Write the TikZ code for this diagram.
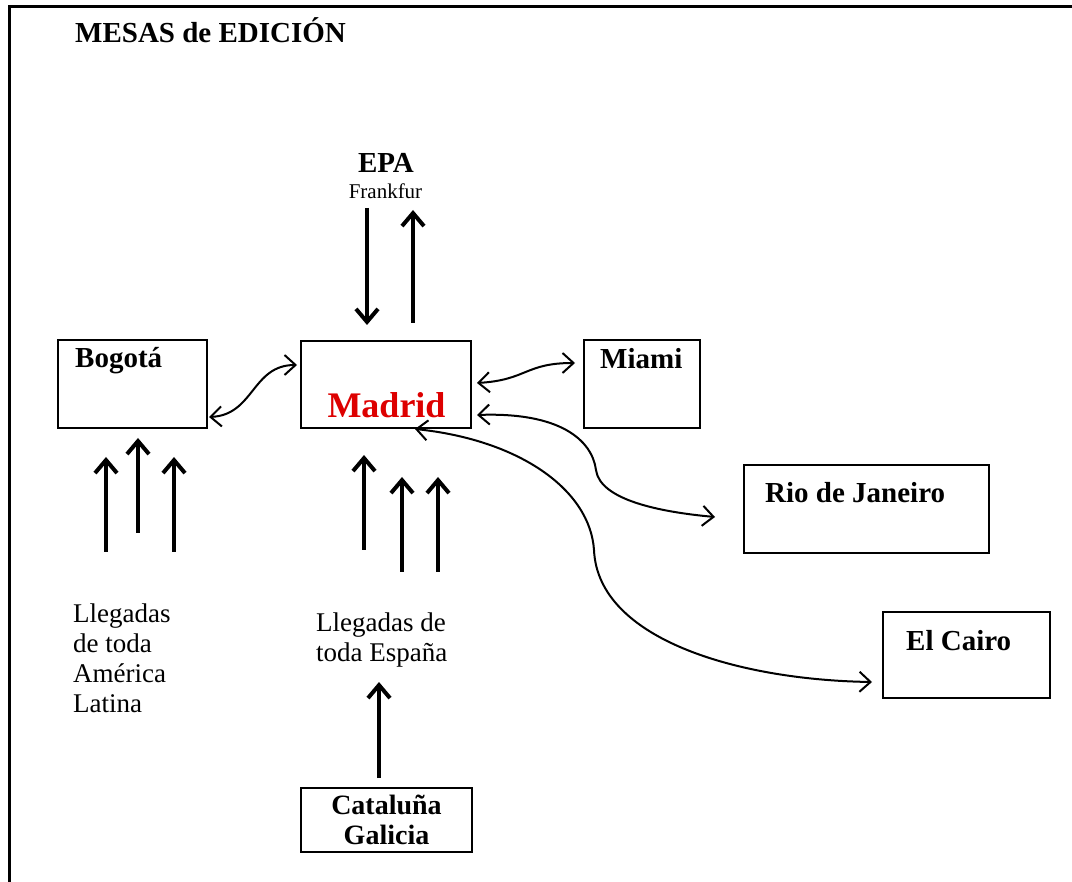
\documentclass[tikz,border=0pt]{standalone}
\usepackage{fontspec}
\setmainfont{Liberation Serif}
\usepackage{xcolor}
\definecolor{cInk}{HTML}{000000}
\definecolor{cRed}{HTML}{DD0000}
\usepackage{tikz}
\usetikzlibrary{positioning,arrows.meta,calc}
\tikzset{
  node-box/.style={draw=cInk,line width=2pt,inner sep=0pt},
  txt-label/.style={inner sep=0pt,font=\fontsize{29}{32}\selectfont\bfseries},
  txt-plain/.style={inner sep=0pt,align=left,font=\fontsize{27}{30}\selectfont},
  arrow-in/.style={line width=4pt,draw=cInk,-{Straight Barb[length=13pt,width=22pt]}},
  arrow-link/.style={line width=2pt,draw=cInk,
    {Straight Barb[length=11pt,width=20pt]}-{Straight Barb[length=11pt,width=20pt]}},
}

\begin{document}
\begin{tikzpicture}[x=1pt,y=-1pt]
  \useasboundingbox (0,0) rectangle (1072,882);
  \draw[line width=3pt] (9,882) -- (9,7) -- (1072,7);
  \node[txt-label,anchor=base west] (title) at (75,43) {MESAS de EDICIÓN};

  % mesas
  \node[node-box,minimum width=149pt,minimum height=88pt] (bogota) at (132.5,384) {};
  \node[node-box,minimum width=170pt,minimum height=87pt] (madrid) at (386,384.5) {};
  \node[node-box,minimum width=116pt,minimum height=88pt] (miami) at (642,384) {};
  \node[node-box,minimum width=245pt,minimum height=88pt] (rio) at (866.5,509) {};
  \node[node-box,minimum width=167pt,minimum height=86pt] (cairo) at (966.5,655) {};
  \node[node-box,minimum width=171pt,minimum height=64pt,align=center,
    font=\fontsize{28}{30}\selectfont\bfseries] (regiones) at (386.5,820) {Cataluña\\Galicia};

  \node[txt-label,anchor=base west] (bogota-txt) at (75,368) {Bogotá};
  \node[anchor=base,inner sep=0pt,text=cRed,font=\fontsize{36}{40}\selectfont\bfseries]
    (madrid-txt) at (386.5,418) {Madrid};
  \node[txt-label,anchor=base west] (miami-txt) at (600,369) {Miami};
  \node[txt-label,anchor=base west] (rio-txt) at (765,503) {Rio de Janeiro};
  \node[txt-label,anchor=base west] (cairo-txt) at (906,650) {El Cairo};

  \node[txt-label,anchor=base] (epa) at (386,173) {EPA};
  \node[anchor=base,inner sep=0pt,font=\fontsize{21}{23}\selectfont] (frankfur) at (385.5,199) {Frankfur};

  \node[txt-plain,anchor=north west] (latam) at (73,603.6) {Llegadas\\de toda\\América\\Latina};
  \node[txt-plain,anchor=north west] (espana) at (316,612.6) {Llegadas de\\toda España};

  % llegadas
  \foreach \n/\x/\ya/\yb in {b1/106/552/457, b2/138/533/438, b3/174/552/457,
      m1/364/550/455, m2/402/572/477, m3/438/572/477, c1/379/778/682,
      e1/367/208/325, e2/413/323/210} {
    \coordinate (\n-from) at (\x,\ya);
    \coordinate (\n-to) at (\x,\yb);
    \draw[arrow-in] (\n-from) -- (\n-to);
  }

  \draw[arrow-link] ($(bogota.east)+(1,33)$) .. controls +(45,-2) and +(-45,0) .. ($(madrid.west)+(-3,-19.5)$);
  \draw[arrow-link] ($(madrid.east)+(5,-1.5)$) .. controls +(50,-3) and +(-50,0) .. ($(miami.west)+(-8,-21)$);
  \draw[arrow-link] ($(madrid.east)+(5,30.5)$) .. controls (560,412) and (592,440) .. (596,470)
    .. controls (600,500) and (660,512) .. ($(rio.west)+(-28,8)$);
  \draw[arrow-link] ($(madrid.south)+(29,0)$) .. controls (520,440) and (590,490) .. (594,550)
    .. controls (598,640) and (740,680) .. ($(cairo.west)+(-10,27)$);
\end{tikzpicture}
\end{document}
